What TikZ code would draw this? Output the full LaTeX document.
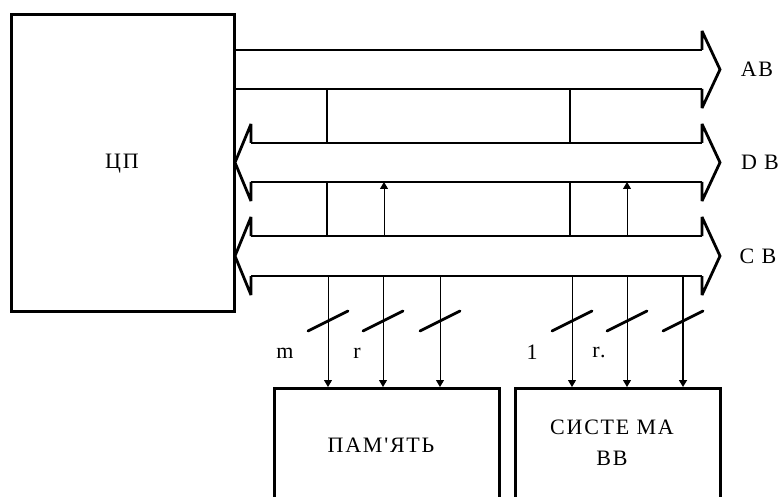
\documentclass[tikz,border=0pt]{standalone}
\usepackage{fontspec}
\newfontfamily\labfont{Liberation Serif}[LetterSpace=8]
\usetikzlibrary{arrows.meta}
\begin{document}
\begin{tikzpicture}[x=1pt,y=-1pt,
  box/.style={draw, line width=2.6pt, inner sep=0pt},
  bus/.style={line width=2pt, line join=miter, miter limit=4},
  head/.style={line width=2.8pt, line join=miter, miter limit=4},
  tap/.style={line width=2.2pt},
  sig/.style={line width=0.9pt, -{Triangle[width=8pt,length=7pt]}},
  sigthick/.style={line width=1.7pt, -{Triangle[width=8pt,length=7pt]}},
  slash/.style={line width=2.8pt, line cap=round},
  lab/.style={font=\labfont\fontsize{22}{26}\selectfont, inner sep=0pt}
]
\useasboundingbox (0,0) rectangle (781,497);
\clip (0,0) rectangle (781,497);
\fill[white] (0,0) rectangle (781,497);

% processor
\node[box, minimum width=223pt, minimum height=297pt, anchor=north west] (cpu) at (10,13) {};
\node[lab] (cputxt) at (122,164) {ЦП};

% memory and I/O boxes (cut off at the bottom)
\node[box, minimum width=225pt, minimum height=140pt, anchor=north west] (mem) at (273,387) {};
\node[lab] (memtxt) at (381,445) {ПАМ'ЯТЬ};
\node[box, minimum width=205pt, minimum height=140pt, anchor=north west] (io) at (514,387) {};
\node[lab] (iotxt1) at (612,427) {СИСТЕ МА};
\node[lab] (iotxt2) at (612,458) {ВВ};

% address bus
\draw[bus] (702,50) -- (233,50);
\draw[bus] (702,89) -- (233,89);
\draw[head] (702,50) -- (702,31) -- (720,69.5) -- (702,108) -- (702,89);
% data bus
\draw[bus] (251,143) -- (702,143);
\draw[bus] (251,182) -- (702,182);
\draw[head] (702,143) -- (702,124) -- (720,162.5) -- (702,201) -- (702,182);
\draw[head] (251,143) -- (251,124) -- (235,162.5) -- (251,201) -- (251,182);
% control bus
\draw[bus] (251,236) -- (702,236);
\draw[bus] (251,276) -- (702,276);
\draw[head] (702,236) -- (702,217) -- (720,256) -- (702,295) -- (702,276);
\draw[head] (251,236) -- (251,217) -- (235,256) -- (251,295) -- (251,276);

\node[lab] (ab) at (757,69) {AB};
\node[lab] (db) at (760,162) {D B};
\node[lab] (cb) at (758,256) {C B};

% taps between buses
\coordinate (a1) at (327,89);  \coordinate (d1) at (327,143);
\coordinate (a2) at (570,89);  \coordinate (d2) at (570,143);
\coordinate (e1) at (327,182); \coordinate (c1) at (327,236);
\coordinate (e2) at (570,182); \coordinate (c2) at (570,236);
\draw[tap] (a1) -- (d1);
\draw[tap] (a2) -- (d2);
\draw[tap] (e1) -- (c1);
\draw[tap] (e2) -- (c2);
\coordinate (u1s) at (384,236); \coordinate (u1e) at (384,182);
\coordinate (u2s) at (627,236); \coordinate (u2e) at (627,182);
\draw[sig] (u1s) -- (u1e);
\draw[sig] (u2s) -- (u2e);

% lines from control bus to memory and I/O
\foreach \x/\n in {328/m1,383/m2,440/m3}{
  \coordinate (\n s) at (\x,276);
  \draw[sig] (\n s) -- (\n s |- mem.north);
  \draw[slash] (\x-20,331) -- (\x+20,311);
}
\foreach \x/\n in {572/i1,627/i2}{
  \coordinate (\n s) at (\x,276);
  \draw[sig] (\n s) -- (\n s |- io.north);
  \draw[slash] (\x-20,331) -- (\x+20,311);
}
\coordinate (i3s) at (683,276);
\draw[sigthick] (i3s) -- (i3s |- io.north);
\draw[slash] (663,331) -- (703,311);

% width labels
\node[lab] (lm) at (285,353) {m};
\node[lab] (lr) at (357,353) {r};
\node[lab] (l1) at (532,352) {1};
\node[lab] (lr2) at (599,352) {r.};
\end{tikzpicture}
\end{document}
